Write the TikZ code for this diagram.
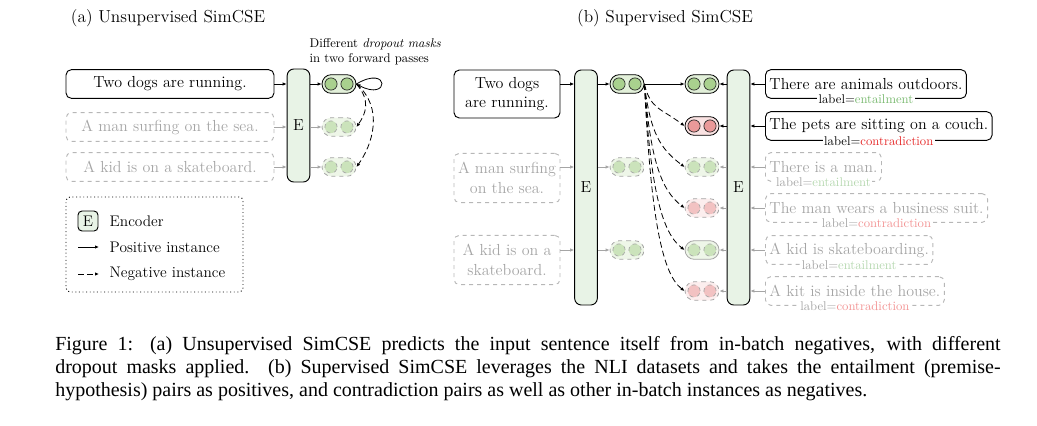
\documentclass[tikz,border=0pt]{standalone}
\usepackage{fontspec}
\newfontfamily\capfont{Liberation Serif}
\usetikzlibrary{arrows.meta,shapes.misc}
\definecolor{enc_green}{RGB}{232,243,230}
\definecolor{pill_green}{RGB}{226,240,217}
\definecolor{dot_green}{RGB}{169,209,142}
\definecolor{pill_red}{RGB}{250,226,226}
\definecolor{dot_red}{RGB}{234,153,153}
\definecolor{ent_green}{RGB}{120,185,110}
\definecolor{con_red}{RGB}{230,40,40}
\definecolor{faded}{RGB}{165,165,165}

\tikzset{
  sent/.style={draw, rounded corners=4pt, line width=0.7pt, inner xsep=3pt,
    inner ysep=0pt, minimum height=21.5pt, font=\fontsize{12}{14.5}\selectfont},
  negsent/.style={sent, draw=faded!80, dashed, text=faded},
  enc/.style={draw, fill=enc_green, rounded corners=5pt, line width=0.7pt,
    minimum width=17pt, font=\fontsize{12}{14}\selectfont},
  pill/.style={draw, rounded rectangle, minimum width=25.5pt,
    minimum height=14pt, line width=0.6pt, inner sep=0pt},
  lab/.style={fill=white, inner sep=1pt, font=\fontsize{9.5}{11}\selectfont},
  feed/.style={-{Latex[length=3pt,width=2.6pt]}, line width=0.6pt},
  neg/.style={feed, dash pattern=on 4.5pt off 2.5pt},
  % embedding looks
  posemb/.style={fill=pill_green},
  posdot/.style={fill=dot_green, draw=black!85, line width=0.5pt},
  conemb/.style={fill=pill_red},
  condot/.style={fill=dot_red, draw=black!85, line width=0.5pt},
  fadeemb/.style={draw=faded, dashed, fill=pill_green!60},
  fadedot/.style={fill=dot_green!60, draw=faded, dashed, line width=0.5pt},
  fadecon/.style={draw=faded, dashed, fill=pill_red!60},
  fadecondot/.style={fill=dot_red!60, draw=faded, dashed, line width=0.5pt},
}

% embedding with two units
\newcommand{\embed}[4]{%
  \node[pill, #3] (#1) at (#2) {};
  \draw[#4] ([xshift=-6pt]#1.center) circle (4.6pt);
  \draw[#4] ([xshift=6pt]#1.center) circle (4.6pt);
}

\begin{document}
\begin{tikzpicture}[x=0.75pt, y=-0.75pt]
\useasboundingbox (0,0) rectangle (1037,425);

%% (a) unsupervised
\node[font=\fontsize{13}{15}\selectfont] (titleA) at (168,18) {(a) Unsupervised SimCSE};

\node[sent, minimum width=156pt] (ua) at (170,84) {Two dogs are running.};
\node[negsent, minimum width=156pt] (ub) at (170,127) {A man surfing on the sea.};
\node[negsent, minimum width=156pt] (uc) at (170,167) {A kid is on a skateboard.};

\node[enc, minimum height=84.75pt] (encA) at (298.5,125.5) {E};

\draw[feed] (ua.east) -- (ua.east -| encA.west);
\draw[feed, faded] (ub.east) -- (ub.east -| encA.west);
\draw[feed, faded] (uc.east) -- (uc.east -| encA.west);

\embed{ha}{339,84}{posemb}{posdot}
\embed{hb}{339,127}{fadeemb}{fadedot}
\embed{hc}{339,167}{fadeemb}{fadedot}

\draw[feed] (encA.east |- ha) -- (ha.west);
\draw[feed, faded] (encA.east |- hb) -- (hb.west);
\draw[feed, faded] (encA.east |- hc) -- (hc.west);

\draw[feed] (ha.east) .. controls (390,64) and (390,102) .. (ha.east);
\draw[neg] (ha.east) .. controls +(14,16) and +(10,-14) .. (hb.east);
\draw[neg] (ha.east) .. controls +(28,24) and +(16,-22) .. (hc.east);

\node[anchor=west, align=left, font=\fontsize{9.5}{11.25}\selectfont] (masks)
  at (305,52) {Different \textit{dropout masks}\\in two forward passes};

% legend
\node[draw, dotted, rounded corners=3pt, line width=0.7pt, minimum width=132.75pt,
  minimum height=71.25pt] (legend) at (154.5,244.5) {};
\node[enc, rounded corners=3pt, minimum width=15pt, minimum height=15pt, inner sep=0pt,
  font=\fontsize{11.5}{13}\selectfont] (legE) at (88,221) {E};
\node[anchor=west, font=\fontsize{11.5}{13}\selectfont] (legEtxt) at (105,221) {Encoder};
\coordinate (posa) at (78,247);
\coordinate (posb) at (99,247);
\draw[feed] (posa) -- (posb);
\node[anchor=west, font=\fontsize{11.5}{13}\selectfont] (postxt) at (105,247) {Positive instance};
\coordinate (nega) at (78,274);
\coordinate (negb) at (99,274);
\draw[neg] (nega) -- (negb);
\node[anchor=west, font=\fontsize{11.5}{13}\selectfont] (negtxt) at (105,274) {Negative instance};

%% (b) supervised
\node[font=\fontsize{13}{15}\selectfont] (titleB) at (665,18) {(b) Supervised SimCSE};

\node[sent, align=center, minimum width=79.5pt, minimum height=36pt] (sa) at (507,94)
  {Two dogs\\are running.};
\node[negsent, align=center, minimum width=79.5pt, minimum height=37pt] (sb) at (507,178)
  {A man surfing\\on the sea.};
\node[negsent, align=center, minimum width=79.5pt, minimum height=37pt] (sc) at (507,260)
  {A kid is on a\\skateboard.};

\node[enc, minimum height=176.25pt] (encB) at (586,187.5) {E};
\node[enc, minimum height=176.25pt] (encC) at (738.5,187.5) {E};

\embed{pa}{627,84}{posemb}{posdot}
\embed{pb}{627,167}{fadeemb}{fadedot}
\embed{pc}{627,250}{fadeemb}{fadedot}

\draw[feed] (sa.east |- pa) -- (encB.west |- pa);
\draw[feed, faded] (sb.east |- pb) -- (encB.west |- pb);
\draw[feed, faded] (sc.east |- pc) -- (encB.west |- pc);
\draw[feed] (encB.east |- pa) -- (pa.west);
\draw[feed, faded] (encB.east |- pb) -- (pb.west);
\draw[feed, faded] (encB.east |- pc) -- (pc.west);

% hypotheses
\node[sent, anchor=west] (ra) at (765,84) {There are animals outdoors.};
\node[sent, anchor=west] (rb) at (765,126) {The pets are sitting on a couch.};
\node[negsent, anchor=west] (rc) at (765,167) {There is a man.};
\node[negsent, anchor=west] (rd) at (765,208) {The man wears a business suit.};
\node[negsent, anchor=west] (re) at (765,250) {A kid is skateboarding.};
\node[negsent, anchor=west] (rf) at (765,291) {A kit is inside the house.};

\node[lab] (la) at (ra.south) {label=\textcolor{ent_green}{entailment}};
\node[lab] (lb) at (rb.south) {label=\textcolor{con_red}{contradiction}};
\node[lab, text=faded] (lc) at (rc.south) {label=\textcolor{ent_green!55}{entailment}};
\node[lab, text=faded] (ld) at (rd.south) {label=\textcolor{con_red!50}{contradiction}};
\node[lab, text=faded] (le) at (re.south) {label=\textcolor{ent_green!55}{entailment}};
\node[lab, text=faded] (lf) at (rf.south) {label=\textcolor{con_red!50}{contradiction}};

\embed{ta}{702,84}{posemb}{posdot}
\embed{tb}{702,126}{conemb}{condot}
\embed{tc}{702,167}{fadeemb}{fadedot}
\embed{td}{702,208}{fadecon}{fadecondot}
\embed{te}{702,250}{draw=faded, fill=pill_green!60}{fadedot}
\embed{tf}{702,291}{fadecon}{fadecondot}

\draw[feed] (ra.west) -- (ra.west -| encC.east);
\draw[feed] (rb.west) -- (rb.west -| encC.east);
\foreach \r in {rc, rd, re, rf}
  \draw[feed, faded] (\r.west) -- (\r.west -| encC.east);
\draw[feed] (encC.west |- ta) -- (ta.east);
\draw[feed] (encC.west |- tb) -- (tb.east);
\foreach \t in {tc, td, te, tf}
  \draw[feed, faded] (encC.west |- \t) -- (\t.east);

\draw[feed] (pa.east) -- (ta.west);
\foreach \t/\dy in {tb/42, tc/83, td/124, te/166, tf/207}
  \draw[neg] (pa.east) .. controls +(6,{0.6*\dy}) and +(-24,-18) .. (\t.west);

%% caption
\node[anchor=north west, inner sep=0pt, text width=709pt, align=justify,
  font=\capfont\fontsize{15}{17.25}\selectfont] (caption) at (55,336)
  {Figure 1: (a) Unsupervised SimCSE predicts the input sentence itself from in-batch
  negatives, with different\linebreak dropout masks applied. (b) Supervised SimCSE
  leverages the NLI datasets and takes the entailment (premise-\linebreak hypothesis)
  pairs as positives, and contradiction pairs as well as other in-batch instances as
  negatives.};
\end{tikzpicture}
\end{document}
